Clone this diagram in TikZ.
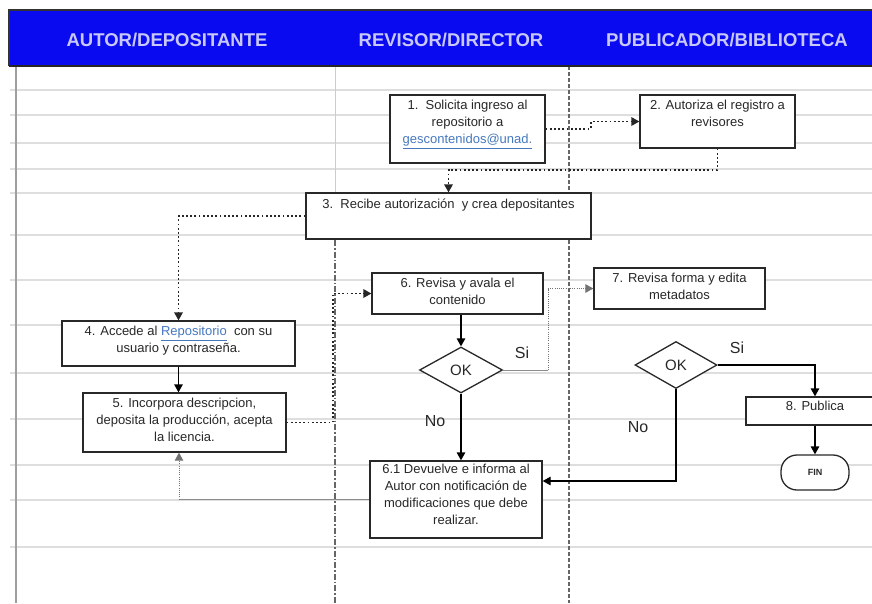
\documentclass[tikz,border=0pt]{standalone}
\usepackage{fontspec}
\setmainfont{Liberation Sans}
\usetikzlibrary{shapes.geometric,arrows.meta}
\definecolor{hblue}{RGB}{10,10,240}
\definecolor{htext}{RGB}{200,200,250}
\definecolor{gridc}{RGB}{222,222,222}
\definecolor{boxline}{RGB}{40,40,40}
\definecolor{txtc}{RGB}{40,40,40}
\definecolor{linkc}{RGB}{70,120,190}
\tikzset{
  gridline/.style={gridc, line width=1.2pt},
  box/.style={draw=boxline, fill=white, line width=1.3pt, inner sep=0pt},
  btxt/.style={text=txtc, font=\fontsize{13}{17}\selectfont, align=center, inner sep=0pt, anchor=north, yshift=-6pt},
  hdrtxt/.style={text=htext, font=\fontsize{18.5}{20}\selectfont\bfseries},
  dec/.style={diamond, draw=boxline, fill=white, line width=1.3pt, inner sep=0pt, text=txtc, font=\fontsize{15}{16}\selectfont},
  flow/.style={line width=1.3pt, draw=black, -{Triangle[length=8pt,width=8.5pt]}},
  dotflow/.style={line width=1.7pt, draw=black!85, dash pattern=on 1.8pt off 2.4pt, -{Triangle[length=8pt,width=8.5pt]}},
  thinflow/.style={line width=0.9pt, draw=black!55, dash pattern=on 1pt off 1.2pt, -{Triangle[length=8pt,width=8.5pt]}},
  lbl/.style={text=txtc, font=\fontsize{16}{17}\selectfont, inner sep=0pt},
}
\begin{document}
\begin{tikzpicture}[x=1pt,y=-1pt]
\useasboundingbox (0,0) rectangle (872,603);
\fill[white] (0,0) rectangle (872,603);
% grid rows
\foreach \yy in {90,115,143,169,193,235,280,325,373,419,465,500,547}
  \draw[gridline] (10,\yy) -- (872,\yy);
% lanes
\draw[gray!75, line width=2.2pt] (16,66) -- (16,603);
\draw[gray!40, line width=1pt] (335,66) -- (335,240);
\draw[black!60, line width=1.2pt, dash pattern=on 6pt off 2pt on 1.5pt off 2pt] (335,240) -- (335,603);
\draw[black!60, line width=1.2pt, dash pattern=on 4pt off 2pt] (569,66) -- (569,603);
% header
\fill[hblue] (9,10) rectangle (872,66);
\draw[black!80, line width=1.2pt] (9,66) -- (9,10) -- (872,10);
\draw[black!85, line width=1.5pt] (9,66) -- (872,66);
\node[hdrtxt] (h1) at (167,40) {AUTOR/DEPOSITANTE};
\node[hdrtxt] (h2) at (451,40) {REVISOR/DIRECTOR};
\node[hdrtxt] (h3) at (727,40) {PUBLICADOR/BIBLIOTECA};
% boxes
\node[box, minimum width=155pt, minimum height=68pt] (b1) at (467.5,129) {};
\node[btxt] at (b1.north) {1.\ \ Solicita ingreso al\\repositorio a\\{\color{linkc}\underline{gescontenidos@unad.}}};
\node[box, minimum width=155pt, minimum height=53pt] (b2) at (717.5,121.5) {};
\node[btxt] at (b2.north) {2. Autoriza el registro a\\revisores};
\node[box, minimum width=285pt, minimum height=46pt] (b3) at (448.5,216) {};
\node[btxt] at (b3.north) {3.\ \ Recibe autorización\ \ y crea depositantes};
\node[box, minimum width=233pt, minimum height=45pt] (b4) at (178.5,343.5) {};
\node[btxt] at (b4.north) {4. Accede al {\color{linkc}\underline{Repositorio}}\ \ con su\\usuario y contraseña.};
\node[box, minimum width=203pt, minimum height=59pt] (b5) at (184.5,422.5) {};
\node[btxt] at (b5.north) {5. Incorpora descripcion,\\deposita la producción, acepta\\la licencia.};
\node[box, minimum width=171pt, minimum height=41pt] (b6) at (457.5,293.5) {};
\node[btxt] at (b6.north) {6. Revisa y avala el\\contenido};
\node[dec, minimum width=83pt, minimum height=46pt] (d1) at (461,370) {OK};
\node[box, minimum width=171pt, minimum height=41pt] (b7) at (679.5,288.5) {};
\node[btxt] at (b7.north) {7. Revisa forma y edita\\metadatos};
\node[dec, minimum width=82pt, minimum height=47pt] (d2) at (676,365) {OK};
\node[box, minimum width=138pt, minimum height=28pt] (b8) at (815,411) {};
\node[btxt, yshift=1pt] at (b8.north) {8. Publica};
\node[box, rounded corners=16pt, minimum width=68pt, minimum height=35pt, text=txtc, font=\fontsize{9}{10}\selectfont\bfseries] (fin) at (815,472.5) {FIN};
\node[box, minimum width=172pt, minimum height=77pt] (b61) at (456,499.5) {};
\node[btxt, yshift=2pt] at (b61.north) {6.1 Devuelve e informa al\\Autor con notificación de\\modificaciones que debe\\realizar.};
% connectors
\draw[dotflow] (b1.east) -- ++(45,0) |- (b2.west);
\draw[dotflow] (b2.south) -- ++(0,21) -| (b3.north);
\draw[dotflow] (b3.west) -| (b4.north);
\draw[flow] (b4.south) -- (b4.south |- b5.north);
\draw[dotflow] (b5.east) -- ++(46,0) |- (b6.west);
\draw[flow] (d1.north |- b6.south) -- (d1.north);
\coordinate (m1) at (548,370);
\draw[black!45, line width=1pt] (d1.east) -- (m1);
\draw[thinflow] (m1) |- (b7.west);
\draw[flow] (d1.south) -- (d1.south |- b61.north);
\coordinate (j1) at (676,481);
\draw[flow] (d2.south) -- (j1) -- (j1 -| b61.east);
\draw[flow] (d2.east) -| (b8.north);
\draw[flow] (fin.north |- b8.south) -- (fin.north);
\coordinate (k1) at (179,499.5);
\draw[black!45, line width=1pt] (b61.west) -- (k1);
\draw[thinflow] (k1) -- (k1 |- b5.south);
% labels
\node[lbl] (si1) at (522,353) {Si};
\node[lbl] (no1) at (435,421) {No};
\node[lbl] (no2) at (638,427) {No};
\node[lbl] (si2) at (737,348) {Si};
\end{tikzpicture}
\end{document}
